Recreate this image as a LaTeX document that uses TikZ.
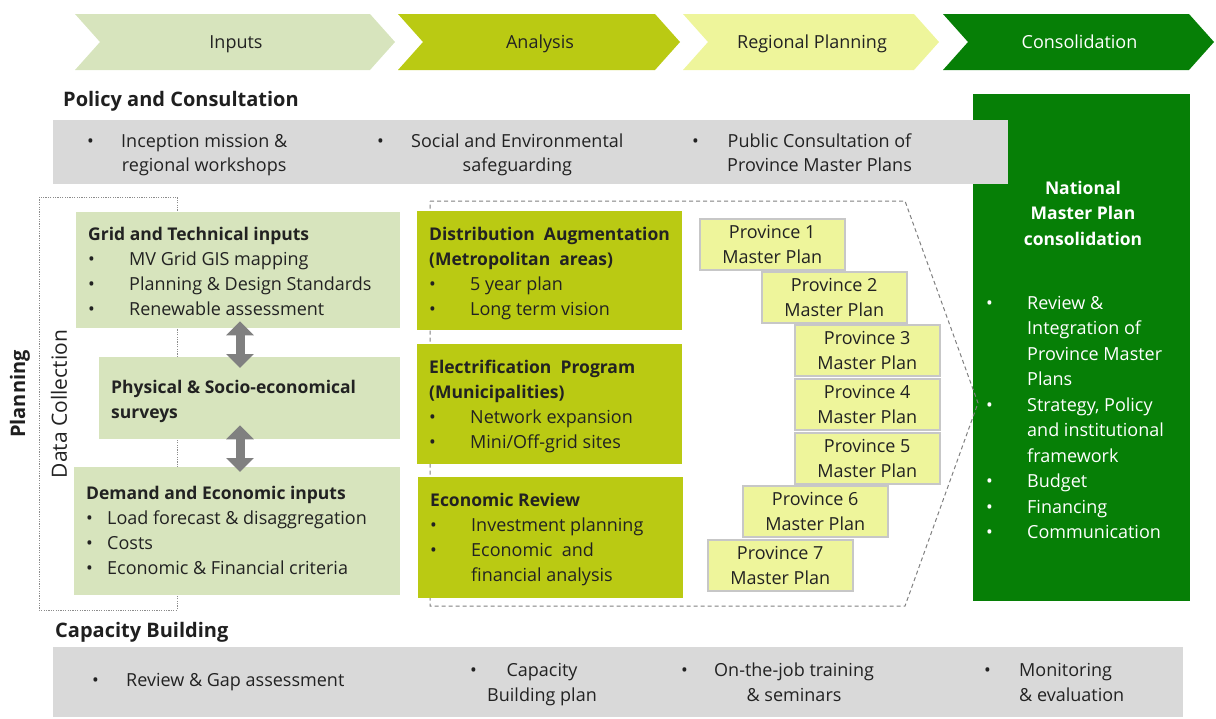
\documentclass[tikz,border=0pt]{standalone}
\usepackage{fontspec}
\setmainfont{Open Sans}
\usetikzlibrary{arrows.meta}

% phase colours
\definecolor{inputgreen}{HTML}{D7E4BD}
\definecolor{limegreen}{HTML}{BACA13}
\definecolor{paleyellow}{HTML}{EEF59B}
\definecolor{deepgreen}{HTML}{067F06}
\definecolor{bandgray}{HTML}{D9D9D9}
\definecolor{txtgray}{HTML}{222222}

% bold box headings, a touch smaller than the body
\newcommand{\boxtitle}[1]{{\fontsize{17.5}{25}\selectfont\bfseries #1}}

\tikzset{
  txt/.style={text=txtgray, inner sep=0pt, anchor=base west,
    font=\fontsize{18}{25}\selectfont},
  hdr/.style={txt, text=black!88, font=\fontsize{20}{22}\selectfont\bfseries},
  panel/.style={fill=#1, inner sep=0pt, anchor=north west},
  provbox/.style={fill=paleyellow, draw=black!22, line width=1.5pt, inner sep=0pt,
    minimum width=145, minimum height=51, align=center, text=txtgray,
    font=\fontsize{18}{25}\selectfont},
  dblarrow/.style={{Triangle[width=27pt,length=14pt]}-{Triangle[width=27pt,length=14pt]},
    line width=9pt, draw=black!50}
}

\begin{document}
\begin{tikzpicture}[x=1pt,y=-1pt]
  \useasboundingbox (0,0) rectangle (1216,718);

  % phase chevrons along the top
  \foreach \x/\w/\col/\fg/\lbl [count=\i] in {75/295/inputgreen/txtgray/Inputs,
      398/257/limegreen/txtgray/Analysis,
      683/231/paleyellow/txtgray/Regional Planning,
      943/246/deepgreen/white/Consolidation}{
    \fill[\col] (\x,14) -- ++(\w,0) -- ++(25,28) -- ++(-25,28) -- ++(-\w,0) -- ++(25,-28) -- cycle;
    \node[txt, text=\fg, anchor=base] (phase\i) at (\x+\w/2+13.5,48.5) {\lbl};
  }

  % consolidation column, partly under the policy band
  \node[panel=deepgreen, minimum width=217, minimum height=507] (natbox) at (973,94) {};
  \node[txt, text=white, anchor=base, font=\fontsize{17.5}{25.5}\selectfont\bfseries] (nattitle) at (1083,194)
    {\begin{tabular}[t]{@{}c@{}}National\\Master Plan\\consolidation\end{tabular}};
  \node[txt, text=white, font=\fontsize{18}{25.5}\selectfont] (natlist) at (986,309)
    {\begin{tabular}[t]{@{}p{41pt}@{}l@{}}
      \textbullet & Review \&\\ & Integration of\\ & Province Master\\ & Plans\\
      \textbullet & Strategy, Policy\\ & and institutional\\ & framework\\
      \textbullet & Budget\\ \textbullet & Financing\\ \textbullet & Communication
    \end{tabular}};

  % policy and consultation band
  \node[hdr] (policy) at (63,106.5) {Policy and Consultation};
  \node[panel=bandgray, minimum width=955, minimum height=64] (polband) at (53,120) {};
  \foreach \x/\w/\lbl [count=\i] in {87/34/{Inception mission \&\\ & regional workshops},
      377/34/{Social and Environmental\\ & safeguarding},
      692/35/{Public Consultation of\\ & Province Master Plans}}{
    \node[txt, font=\fontsize{18}{24}\selectfont] (pol\i) at (\x,147.5)
      {\begin{tabular}[t]{@{}p{\w pt}@{}c@{}}\textbullet & \lbl\end{tabular}};
  }

  % data collection frame
  \draw[black!45, line width=0.8pt, dash pattern=on 1.2pt off 1.2pt] (39,197) rectangle (177,610);
  \node[hdr, rotate=90, anchor=center] (planning) at (20,394) {Planning};
  \node[txt, rotate=90, anchor=center, font=\fontsize{21}{24}\selectfont] (datacoll) at (59,404) {Data Collection};

  % data collection boxes
  \node[panel=inputgreen, minimum width=324, minimum height=116] (grid) at (76,212) {};
  \node[panel=inputgreen, minimum width=301, minimum height=82] (phys) at (99,357) {};
  \node[panel=inputgreen, minimum width=326, minimum height=128] (demand) at (74,467) {};
  \node[txt] (gridtxt) at (88,240.5) {\begin{tabular}[t]{@{}p{41pt}@{}l@{}}
      \multicolumn{2}{@{}l@{}}{\boxtitle{Grid and Technical inputs}}\\
      \textbullet & MV Grid GIS mapping\\
      \textbullet & Planning \& Design Standards\\
      \textbullet & Renewable assessment\end{tabular}};
  \node[txt] (phystxt) at (111,393.5)
    {\begin{tabular}[t]{@{}l@{}}\boxtitle{Physical \& Socio-economical}\\\boxtitle{surveys}\end{tabular}};
  \node[txt] (demandtxt) at (86,499.5) {\begin{tabular}[t]{@{}p{21pt}@{}l@{}}
      \multicolumn{2}{@{}l@{}}{\boxtitle{Demand and Economic inputs}}\\
      \textbullet & Load forecast \& disaggregation\\
      \textbullet & Costs\\
      \textbullet & Economic \& Financial criteria\end{tabular}};

  % links between the boxes
  \coordinate (arrx) at (240,0);
  \draw[dblarrow, shorten <=-7pt, shorten >=-11pt] (arrx |- grid.south) -- (arrx |- phys.north);
  \draw[dblarrow, shorten <=-14pt, shorten >=-5pt] (arrx |- phys.south) -- (arrx |- demand.north);

  % analysis frame pointing at the consolidation
  \draw[black!50, line width=1pt, dash pattern=on 4pt off 3pt]
    (430,201) -- (905,201) -- (978,403) -- (905,606) -- (430,606) -- cycle;
  \node[panel=limegreen, minimum width=265, minimum height=119] (distr) at (417,211) {};
  \node[panel=limegreen, minimum width=265, minimum height=120] (electr) at (417,344) {};
  \node[panel=limegreen, minimum width=265, minimum height=121] (econ) at (418,477) {};
  \node[txt] (distrtxt) at (429,240.5) {\begin{tabular}[t]{@{}p{41pt}@{}l@{}}
      \multicolumn{2}{@{}l@{}}{\boxtitle{Distribution\ \ Augmentation}}\\
      \multicolumn{2}{@{}l@{}}{\boxtitle{(Metropolitan\ \ areas)}}\\
      \textbullet & 5 year plan\\
      \textbullet & Long term vision\end{tabular}};
  \node[txt] (electrtxt) at (429,373.5) {\begin{tabular}[t]{@{}p{41pt}@{}l@{}}
      \multicolumn{2}{@{}l@{}}{\boxtitle{Electrification\ \ Program}}\\
      \multicolumn{2}{@{}l@{}}{\boxtitle{(Municipalities)}}\\
      \textbullet & Network expansion\\
      \textbullet & Mini/Off-grid sites\end{tabular}};
  \node[txt] (econtxt) at (430,506.5) {\begin{tabular}[t]{@{}p{41pt}@{}l@{}}
      \multicolumn{2}{@{}l@{}}{\boxtitle{Economic Review}}\\
      \textbullet & Investment planning\\
      \textbullet & Economic\ \ and\\
      & financial analysis\end{tabular}};

  % province master plans
  \foreach \x/\y [count=\i] in {699/218, 761/271, 794/324, 794/378, 794/432, 742/485, 707/539}
    \node[provbox, anchor=north west] (prov\i) at (\x,\y) {Province \i\\Master Plan};

  % capacity building band
  \node[hdr] (capacity) at (55,637.5) {Capacity Building};
  \node[panel=bandgray, minimum width=1130, minimum height=70] (capband) at (53,647) {};
  \node[txt] (cap1) at (92,686.5)
    {\begin{tabular}[t]{@{}p{34pt}@{}l@{}}\textbullet & Review \& Gap assessment\end{tabular}};
  \node[txt] (cap2) at (470,676.5)
    {\begin{tabular}[t]{@{}p{17pt}@{}c@{}}\textbullet & Capacity\\ & Building plan\end{tabular}};
  \node[txt] (cap3) at (681,676.5)
    {\begin{tabular}[t]{@{}p{33pt}@{}c@{}}\textbullet & On-the-job training\\ & \& seminars\end{tabular}};
  \node[txt] (cap4) at (984,676.5)
    {\begin{tabular}[t]{@{}p{35pt}@{}l@{}}\textbullet & Monitoring\\ & \& evaluation\end{tabular}};

\end{tikzpicture}
\end{document}
